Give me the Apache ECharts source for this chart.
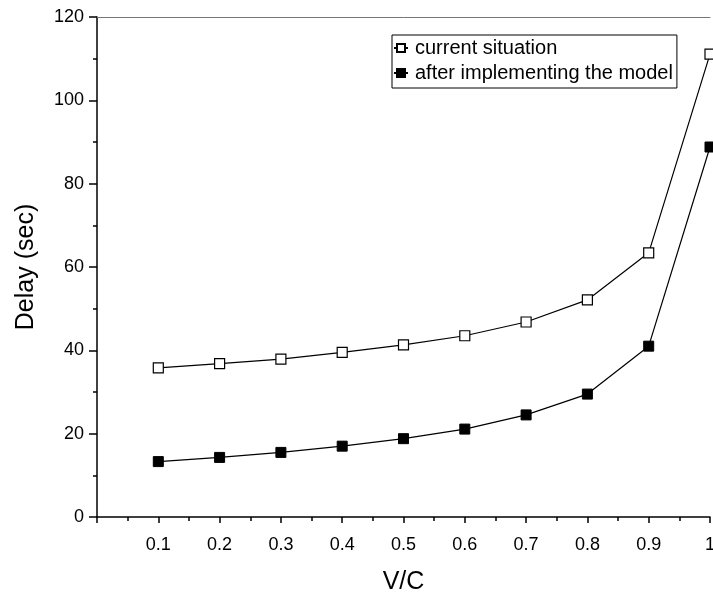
<!DOCTYPE html>
<html>
<head>
<meta charset="utf-8">
<script src="https://cdn.jsdelivr.net/npm/echarts@6/dist/echarts.min.js"></script>
<style>
html,body{margin:0;padding:0;background:#fff;}
#chart{width:713px;height:596px;}
</style>
</head>
<body>
<div id="chart"></div>
<script>
var vc = [0.1, 0.2, 0.3, 0.4, 0.5, 0.6, 0.7, 0.8, 0.9, 1.0];
var currentSituation = [35.8, 36.8, 37.9, 39.5, 41.3, 43.5, 46.8, 52.1, 63.4, 111.1];
var afterModel = [13.3, 14.3, 15.5, 17.0, 18.8, 21.1, 24.5, 29.5, 41.0, 88.8];
var seriesNames = ['current situation', 'after implementing the model'];

function pairs(xs, ys) { return xs.map(function (x, i) { return [x, ys[i]]; }); }

var FONT = 'Liberation Sans, Arial, sans-serif';
var ICON = 'path://M0,4H3M11,4H14M3,0H11V8H3Z';
var chart = echarts.init(document.getElementById('chart'), null, {renderer: 'canvas'});
chart.setOption({
  animation: false,
  backgroundColor: '#fff',
  grid: {left: 97, right: 3, top: 17, bottom: 79, containLabel: false, outerBoundsMode: 'none'},
  legend: {
    left: 392, top: 35,
    orient: 'vertical',
    data: [{name: seriesNames[0], icon: ICON}, {name: seriesNames[1], icon: ICON}],
    itemWidth: 14, itemHeight: 8, itemGap: 5,
    padding: [3, 4, 5, 1],
    borderColor: '#000', borderWidth: 1,
    textStyle: {fontFamily: FONT, fontSize: 20, color: '#000', padding: [0, 0, 0, 2]}
  },
  xAxis: [{
    type: 'value', min: 0, max: 1, interval: 0.1,
    name: 'V/C', nameLocation: 'middle', nameGap: 53,
    nameTextStyle: {fontFamily: FONT, fontSize: 25, color: '#000'},
    axisLine: {onZero: false, lineStyle: {color: '#000', width: 1.5}},
    axisTick: {show: true, inside: false, length: 6, lineStyle: {color: '#000', width: 1.5}},
    minorTick: {show: true, splitNumber: 2, length: 4, lineStyle: {color: '#000', width: 1.5}},
    splitLine: {show: false},
    axisLabel: {fontFamily: FONT, fontSize: 18, color: '#000', margin: 19,
      formatter: function (v) { return v === 0 ? '' : String(parseFloat(v.toFixed(1))); }}
  }, {
    type: 'value', min: 0, max: 1, position: 'top',
    axisLine: {onZero: false, lineStyle: {color: '#777', width: 1}},
    axisTick: {show: false}, axisLabel: {show: false}, splitLine: {show: false}
  }],
  yAxis: {
    type: 'value', min: 0, max: 120, interval: 20,
    name: 'Delay (sec)', nameLocation: 'middle', nameGap: 58, nameRotate: 90,
    nameTextStyle: {fontFamily: FONT, fontSize: 25, color: '#000'},
    axisLine: {show: true, onZero: false, lineStyle: {color: '#000', width: 1.5}},
    axisTick: {show: true, length: 8, lineStyle: {color: '#000', width: 1.5}},
    minorTick: {show: true, splitNumber: 2, length: 4, lineStyle: {color: '#000', width: 1.5}},
    splitLine: {show: false},
    axisLabel: {fontFamily: FONT, fontSize: 18, color: '#000', margin: 13}
  },
  series: [{
    name: seriesNames[0], type: 'line',
    data: pairs(vc, currentSituation),
    symbol: 'rect', symbolSize: 10,
    lineStyle: {color: '#000', width: 1.2},
    itemStyle: {color: '#fff', borderColor: '#000', borderWidth: 1.2},
    z: 3
  }, {
    name: seriesNames[1], type: 'line',
    data: pairs(vc, afterModel),
    symbol: 'rect', symbolSize: 10,
    lineStyle: {color: '#000', width: 1.2},
    itemStyle: {color: '#000', borderColor: '#000', borderWidth: 1},
    z: 3
  }]
});
</script>
</body>
</html>
